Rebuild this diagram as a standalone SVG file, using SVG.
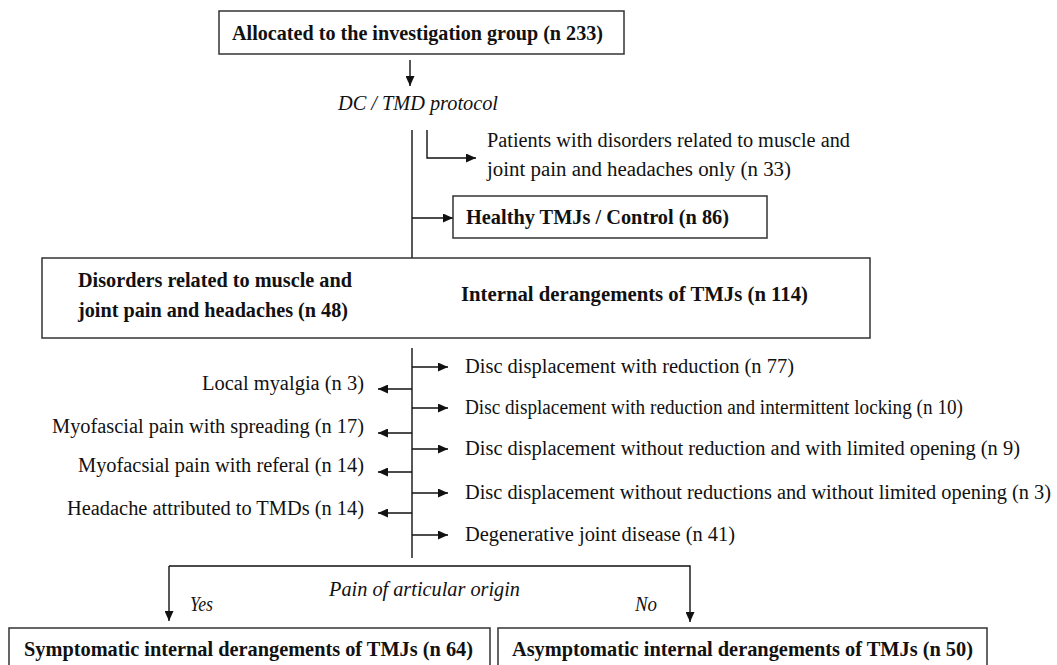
<svg xmlns="http://www.w3.org/2000/svg" width="1057" height="665" viewBox="0 0 1057 665">
<defs>
<marker id="ah" markerWidth="11" markerHeight="9" refX="10" refY="4.5" orient="auto" markerUnits="userSpaceOnUse">
<path d="M0,0 L10,4.5 L0,9 Z" fill="#111"/>
</marker>
<style>
.box{fill:#fff;stroke:#333;stroke-width:1.5}
.ln{fill:none;stroke:#111;stroke-width:1.4}
.ar{fill:none;stroke:#111;stroke-width:1.4;marker-end:url(#ah)}
.b{font-family:"Liberation Serif","Times New Roman",serif;font-weight:bold;font-size:21px;fill:#111}
.r{font-family:"Liberation Serif","Times New Roman",serif;font-size:20px;fill:#111}
.i{font-family:"Liberation Serif","Times New Roman",serif;font-style:italic;font-size:20px;fill:#111}
</style>
</defs>
<rect width="1057" height="665" fill="#fff"/>
<g id="connectors">
<path class="ar" d="M410,60 V86"/>
<path class="ln" d="M412,130 V294"/>
<path class="ar" d="M427,130 V158 H476"/>
<path class="ar" d="M412,218 H453"/>
<path class="ar" d="M412,294 H378"/>
<path class="ar" d="M412,294 H448"/>
<path class="ln" d="M412,348 V558"/>
<path class="ar" d="M412,367 H448"/>
<path class="ar" d="M412,408 H448"/>
<path class="ar" d="M412,449 H448"/>
<path class="ar" d="M412,493 H448"/>
<path class="ar" d="M412,535 H448"/>
<path class="ar" d="M412,389 H378"/>
<path class="ar" d="M412,433 H378"/>
<path class="ar" d="M412,472 H378"/>
<path class="ar" d="M412,513 H378"/>
<path class="ar" d="M169,566 H690 V622"/>
<path class="ar" d="M169,566 V621"/>
</g>
<g id="n-allocated">
<rect class="box" x="219" y="11" width="405" height="43"/>
<text class="b" x="232" y="40" textLength="371" lengthAdjust="spacingAndGlyphs">Allocated to the investigation group (n 233)</text>
</g>
<g id="n-protocol">
<text class="i" x="338" y="110" textLength="160" lengthAdjust="spacingAndGlyphs">DC / TMD protocol</text>
</g>
<g id="n-patients">
<text class="r" x="487" y="147" textLength="363" lengthAdjust="spacingAndGlyphs">Patients with disorders related to muscle and</text>
<text class="r" x="487" y="176" textLength="304" lengthAdjust="spacingAndGlyphs">joint pain and headaches only (n 33)</text>
</g>
<g id="n-healthy">
<rect class="box" x="453" y="196" width="314" height="42"/>
<text class="b" x="466" y="224" textLength="263" lengthAdjust="spacingAndGlyphs">Healthy TMJs / Control (n 86)</text>
</g>
<g id="n-main">
<rect class="box" x="42" y="258" width="828" height="80"/>
<text class="b" x="78" y="287" textLength="274" lengthAdjust="spacingAndGlyphs">Disorders related to muscle and</text>
<text class="b" x="78" y="317" textLength="270" lengthAdjust="spacingAndGlyphs">joint pain and headaches (n 48)</text>
<text class="b" x="461" y="301" textLength="347" lengthAdjust="spacingAndGlyphs">Internal derangements of TMJs (n 114)</text>
</g>
<g id="n-muscle-list">
<text class="r" x="202" y="390" textLength="162" lengthAdjust="spacingAndGlyphs">Local myalgia (n 3)</text>
<text class="r" x="52" y="433" textLength="312" lengthAdjust="spacingAndGlyphs">Myofascial pain with spreading (n 17)</text>
<text class="r" x="78" y="472" textLength="286" lengthAdjust="spacingAndGlyphs">Myofacsial pain with referal (n 14)</text>
<text class="r" x="67" y="515" textLength="297" lengthAdjust="spacingAndGlyphs">Headache attributed to TMDs (n 14)</text>
</g>
<g id="n-disc-list">
<text class="r" x="465" y="373" textLength="329" lengthAdjust="spacingAndGlyphs">Disc displacement with reduction (n 77)</text>
<text class="r" x="465" y="414" textLength="498" lengthAdjust="spacingAndGlyphs">Disc displacement with reduction and intermittent locking (n 10)</text>
<text class="r" x="465" y="455" textLength="555" lengthAdjust="spacingAndGlyphs">Disc displacement without reduction and with limited opening (n 9)</text>
<text class="r" x="465" y="499" textLength="586" lengthAdjust="spacingAndGlyphs">Disc displacement without reductions and without limited opening (n 3)</text>
<text class="r" x="465" y="541" textLength="270" lengthAdjust="spacingAndGlyphs">Degenerative joint disease (n 41)</text>
</g>
<g id="n-pain">
<text class="i" x="329" y="596" textLength="191" lengthAdjust="spacingAndGlyphs">Pain of articular origin</text>
<text class="i" x="190" y="611" textLength="23" lengthAdjust="spacingAndGlyphs">Yes</text>
<text class="i" x="635" y="611" textLength="22" lengthAdjust="spacingAndGlyphs">No</text>
</g>
<g id="n-symptomatic">
<rect class="box" x="9" y="628" width="481" height="60"/>
<text class="b" x="24" y="656" textLength="449" lengthAdjust="spacingAndGlyphs">Symptomatic internal derangements of TMJs (n 64)</text>
</g>
<g id="n-asymptomatic">
<rect class="box" x="498" y="628" width="489" height="60"/>
<text class="b" x="512" y="656" textLength="461" lengthAdjust="spacingAndGlyphs">Asymptomatic internal derangements of TMJs (n 50)</text>
</g>
</svg>
